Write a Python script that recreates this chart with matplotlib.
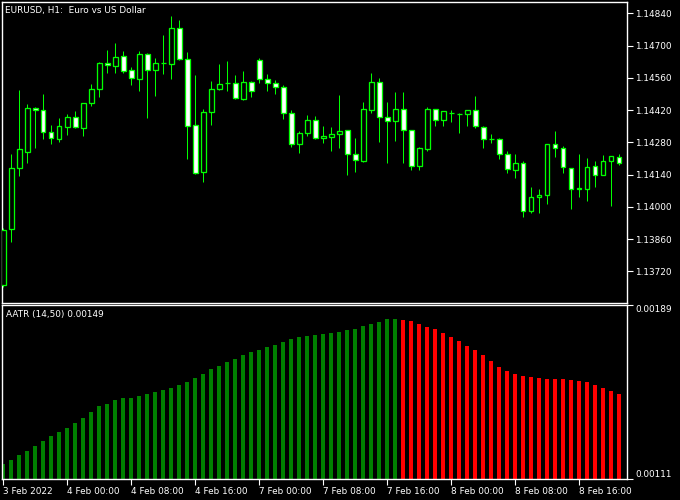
import matplotlib
matplotlib.use("Agg")
import matplotlib.pyplot as plt
import numpy as np

plt.rcParams['font.family'] = ['DejaVu Sans']

title = "EURUSD, H1:  Euro vs US Dollar"
ind_label = "AATR (14,50) 0.00149"

opens = [1.13661, 1.13902, 1.14167, 1.14240, 1.14428, 1.14419, 1.14323, 1.14293, 1.14348, 1.14389,
         1.14344, 1.14449, 1.14510, 1.14624, 1.14613, 1.14653, 1.14593, 1.14553, 1.14663, 1.14593,
         1.14624, 1.14619, 1.14775, 1.14640, 1.14354, 1.14150, 1.14410, 1.14510, 1.14536, 1.14536,
         1.14470, 1.14540, 1.14636, 1.14553, 1.14536, 1.14519, 1.14406, 1.14271, 1.14319, 1.14376,
         1.14297, 1.14302, 1.14315, 1.14332, 1.14228, 1.14199, 1.14419, 1.14540, 1.14389, 1.14371,
         1.14423, 1.14332, 1.14176, 1.14253, 1.14423, 1.14376, 1.14406, 1.14402, 1.14402, 1.14419,
         1.14345, 1.14293, 1.14293, 1.14228, 1.14158, 1.14189, 1.13980, 1.14041, 1.14050, 1.14271,
         1.14254, 1.14167, 1.14079, 1.14076, 1.14176, 1.14137, 1.14198, 1.14215]
highs = [1.13907, 1.14229, 1.14507, 1.14446, 1.14435, 1.14488, 1.14355, 1.14387, 1.14404, 1.14416,
         1.14452, 1.14533, 1.14630, 1.14681, 1.14713, 1.14677, 1.14607, 1.14677, 1.14666, 1.14646,
         1.14746, 1.14828, 1.14811, 1.14672, 1.14572, 1.14425, 1.14546, 1.14620, 1.14633, 1.14572,
         1.14590, 1.14548, 1.14646, 1.14577, 1.14551, 1.14529, 1.14420, 1.14329, 1.14399, 1.14394,
         1.14351, 1.14347, 1.14485, 1.14335, 1.14300, 1.14455, 1.14581, 1.14559, 1.14455, 1.14499,
         1.14499, 1.14335, 1.14261, 1.14433, 1.14426, 1.14416, 1.14420, 1.14406, 1.14419, 1.14481,
         1.14349, 1.14315, 1.14300, 1.14244, 1.14229, 1.14198, 1.14086, 1.14077, 1.14274, 1.14328,
         1.14263, 1.14167, 1.14229, 1.14212, 1.14198, 1.14225, 1.14222, 1.14229]
lows = [1.13653, 1.13849, 1.14135, 1.14189, 1.14254, 1.14293, 1.14271, 1.14283, 1.14313, 1.14341,
        1.14309, 1.14439, 1.14478, 1.14582, 1.14582, 1.14582, 1.14530, 1.14504, 1.14387, 1.14483,
        1.14578, 1.14556, 1.14637, 1.14209, 1.14142, 1.14106, 1.14354, 1.14507, 1.14504, 1.14467,
        1.14465, 1.14478, 1.14539, 1.14504, 1.14491, 1.14383, 1.14261, 1.14235, 1.14309, 1.14293,
        1.14279, 1.14244, 1.14257, 1.14140, 1.14153, 1.14195, 1.14409, 1.14283, 1.14192, 1.14287,
        1.14192, 1.14161, 1.14161, 1.14244, 1.14349, 1.14352, 1.14370, 1.14322, 1.14352, 1.14344,
        1.14257, 1.14279, 1.14209, 1.14145, 1.14127, 1.13954, 1.13972, 1.13972, 1.14014, 1.14215,
        1.14145, 1.13992, 1.14044, 1.14024, 1.14088, 1.14137, 1.14005, 1.14180]
closes = [1.13899, 1.14167, 1.14250, 1.14428, 1.14420, 1.14323, 1.14297, 1.14349, 1.14389, 1.14348,
          1.14449, 1.14510, 1.14624, 1.14614, 1.14649, 1.14588, 1.14558, 1.14663, 1.14593, 1.14624,
          1.14623, 1.14775, 1.14640, 1.14349, 1.14145, 1.14410, 1.14510, 1.14532, 1.14537, 1.14471,
          1.14540, 1.14501, 1.14553, 1.14536, 1.14519, 1.14406, 1.14271, 1.14319, 1.14376, 1.14297,
          1.14306, 1.14315, 1.14328, 1.14228, 1.14202, 1.14423, 1.14540, 1.14389, 1.14371, 1.14423,
          1.14332, 1.14176, 1.14254, 1.14423, 1.14376, 1.14415, 1.14407, 1.14403, 1.14419, 1.14349,
          1.14293, 1.14294, 1.14228, 1.14163, 1.14189, 1.13980, 1.14041, 1.14050, 1.14271, 1.14254,
          1.14171, 1.14076, 1.14080, 1.14171, 1.14137, 1.14198, 1.14219, 1.14189]

aatr = [0.001179, 0.001197, 0.001220, 0.001238, 0.001260, 0.001283, 0.001305, 0.001322, 0.001341, 0.001364,
        0.001386, 0.001413, 0.001436, 0.001449, 0.001463, 0.001472, 0.001476, 0.001481, 0.001490, 0.001499,
        0.001508, 0.001517, 0.001530, 0.001544, 0.001562, 0.001580, 0.001602, 0.001616, 0.001634, 0.001647,
        0.001665, 0.001679, 0.001688, 0.001701, 0.001710, 0.001724, 0.001737, 0.001746, 0.001751, 0.001755,
        0.001760, 0.001764, 0.001769, 0.001778, 0.001782, 0.001796, 0.001805, 0.001814, 0.001827, 0.001827,
        0.001823, 0.001818, 0.001805, 0.001791, 0.001782, 0.001764, 0.001746, 0.001728, 0.001706, 0.001688,
        0.001665, 0.001638, 0.001611, 0.001593, 0.001580, 0.001571, 0.001566, 0.001562, 0.001557, 0.001557,
        0.001557, 0.001553, 0.001548, 0.001544, 0.001530, 0.001517, 0.001503, 0.001490]

price_ticks = [1.14840, 1.14700, 1.14560, 1.14420, 1.14280, 1.14140, 1.14000, 1.13860, 1.13720]
aatr_ticks = [0.00111, 0.00189]
time_tick_pos = [0, 8, 16, 24, 32, 40, 48, 56, 64, 72]
time_tick_labels = ["3 Feb 2022", "4 Feb 00:00", "4 Feb 08:00", "4 Feb 16:00", "7 Feb 00:00",
                    "7 Feb 08:00", "7 Feb 16:00", "8 Feb 00:00", "8 Feb 08:00", "8 Feb 16:00"]

W, H = 680, 500
fig = plt.figure(figsize=(W / 100, H / 100), dpi=100, facecolor='black')
left, right = 2.3, 627.3
ax1 = fig.add_axes([left / W, 1 - 303.3 / H, (right - left) / W, 301.0 / H])
ax2 = fig.add_axes([left / W, 1 - 479.3 / H, (right - left) / W, 174.3 / H])

FS = 6.4
px = 0.72
x = np.arange(len(opens))
o = np.array(opens); h = np.array(highs); l = np.array(lows); c = np.array(closes)

for ax in (ax1, ax2):
    ax.set_facecolor('black')
    for s in ax.spines.values():
        s.set_color('white')
        s.set_linewidth(1.0)
    ax.set_xlim(-0.125, 78.0)

# candles
ax1.vlines(x, l, h, color='#00ff00', linewidth=px, zorder=2)
fills = ['white' if cc < oo else 'black' for oo, cc in zip(o, c)]
ax1.bar(x, np.abs(c - o), bottom=np.minimum(o, c), width=0.55, color=fills,
        edgecolor='#00ff00', linewidth=px * 1.3, zorder=3)
ax1.set_ylim(1.135812, 1.148879)
ax1.yaxis.tick_right()
ax1.set_yticks(price_ticks)
ax1.set_yticklabels([f"{v:.5f}" for v in price_ticks])
ax1.tick_params(axis='y', colors='white', labelcolor='white', labelsize=FS, length=4, width=0.8, pad=1.5)
ax1.set_xticks([])
ax1.text(6.7 / (right - left) - 4.4 / (right - left), 1 - 8.0 / 301.0, title, transform=ax1.transAxes,
         color='white', fontsize=FS, ha='left', va='center')

# histogram
cols = []
prev = '#008000'
for i, v in enumerate(aatr):
    if i > 0:
        if v > aatr[i - 1]:
            prev = '#008000'
        elif v < aatr[i - 1]:
            prev = '#ff0000'
    cols.append(prev)
ax2.bar(x, aatr, width=0.5, color=cols, linewidth=0)
ax2.set_ylim(aatr_ticks[0], aatr_ticks[1])
ax2.yaxis.tick_right()
ax2.set_yticks(aatr_ticks)
ax2.set_yticklabels([f"{v:.5f}" for v in aatr_ticks])
ax2.tick_params(axis='y', colors='white', labelcolor='white', labelsize=FS, length=4, width=0.8, pad=1.5)
lbls = ax2.get_yticklabels()
lbls[0].set_va('bottom')
lbls[1].set_va('top')
ax2.set_xticks(time_tick_pos)
ax2.set_xticklabels(time_tick_labels)
ax2.tick_params(axis='x', colors='white', labelcolor='white', labelsize=FS, length=4, width=0.8, pad=1.5)
for t in ax2.get_xticklabels():
    t.set_ha('left')
ax2.text(3.7 / (right - left), 1 - 9.7 / 174.3, ind_label, transform=ax2.transAxes,
         color='white', fontsize=FS, ha='left', va='center')

fig.savefig("out.png", dpi=100, facecolor='black')
